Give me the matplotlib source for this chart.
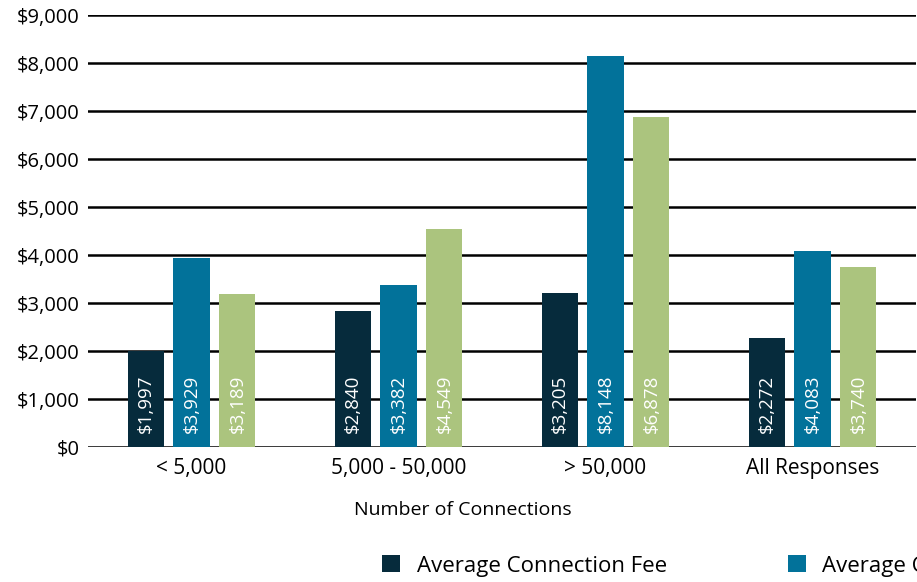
import matplotlib.pyplot as plt
import numpy as np

plt.rcParams['font.family'] = ['Open Sans', 'DejaVu Sans']

groups = ['< 5,000', '5,000 - 50,000', '> 50,000', 'All Responses']
series = ['Average Connection Fee', 'Average Capacity Fee', 'Average Total Fee']
connection = [1997, 2840, 3205, 2272]
capacity = [3929, 3382, 8148, 4083]
total = [3189, 4549, 6878, 3740]
colors = ['#062b3c', '#02729a', '#abc47e']

fig = plt.figure(figsize=(9.17, 5.82), dpi=100)
ax = fig.add_axes([88 / 917, 1 - 447 / 582, 828 / 917, 432 / 582])

x = np.arange(len(groups))
width = 0.174
step = 0.222
for i, (vals, c, name) in enumerate(zip([connection, capacity, total], colors, series)):
    pos = x + (i - 1) * step
    ax.bar(pos, vals, width, color=c, label=name, zorder=3)
    for p, v in zip(pos, vals):
        ax.text(p, 300, '${:,}'.format(v), rotation=90, ha='center', va='bottom',
                color='white', fontsize=13.5, zorder=4)

ax.set_xlim(-0.5, 3.5)
ax.set_ylim(0, 9000)
ax.set_yticks(range(0, 9001, 1000))
ax.set_yticklabels(['${:,}'.format(v) for v in range(0, 9001, 1000)], fontsize=14.5)
ax.set_xticks(x)
ax.set_xticklabels(groups, fontsize=15)
ax.tick_params(axis='y', length=0, pad=6)
ax.tick_params(axis='x', length=0, pad=8)
ax.yaxis.grid(True, color='black', linewidth=1.8, zorder=0)
ax.set_axisbelow(True)
for s in ax.spines.values():
    s.set_visible(False)
ax.set_xlabel('Number of Connections', fontsize=14)
ax.xaxis.set_label_coords((463 - 88) / 828, -0.125)

fig.legend(loc='center left', bbox_to_anchor=(371 / 917, 1 - 566 / 582), ncol=3,
           frameon=False, fontsize=16, handlelength=0.8, handleheight=0.8,
           handletextpad=0.75, columnspacing=5.45, borderpad=0)

fig.savefig('out.png', dpi=100)
